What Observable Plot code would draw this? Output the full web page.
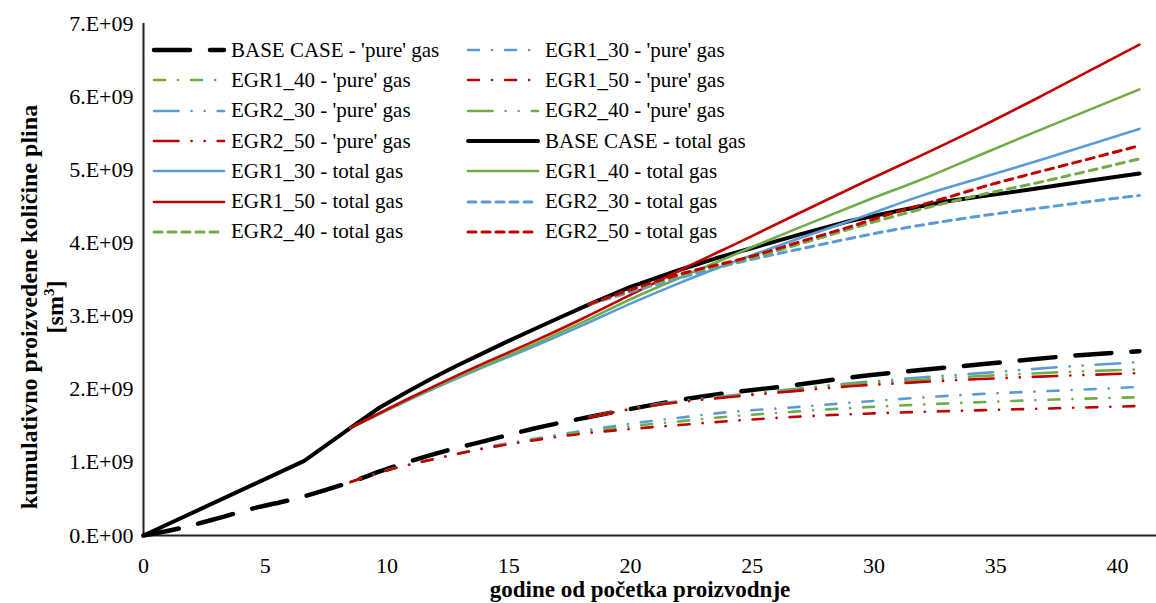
<!DOCTYPE html>
<html>
<head>
<meta charset="utf-8">
<script src="https://cdn.jsdelivr.net/npm/d3@7"></script>
<script src="https://cdn.jsdelivr.net/npm/@observablehq/plot@0.6"></script>
<style>
  body { margin: 0; background: #fff; }
  #wrap { position: relative; width: 1156px; height: 603px; font-family: "Liberation Serif", "Times New Roman", serif; color: #000; }
  #legend { position: absolute; left: 151px; top: 35px; display: grid; grid-template-columns: 314px 320px; }
  .item { display: flex; align-items: center; height: 30.3px; font-size: 21px; white-space: nowrap; }
  .item svg { margin-right: 3px; flex: none; }
  #xtitle { position: absolute; left: 0; width: 1280px; top: 577px; text-align: center; font-weight: bold; font-size: 23px; line-height: 26px; }
  #ytitle { position: absolute; left: -207.5px; top: 280px; width: 500px; height: 54px; transform: rotate(-90deg); transform-origin: 50% 50%; text-align: center; font-weight: bold; font-size: 24px; line-height: 26px; }
  #ytitle sup { font-size: 15px; line-height: 0; }
</style>
</head>
<body>
<div id="wrap">
  <div id="chart"></div>
  <div id="legend"></div>
  <div id="xtitle">godine od početka proizvodnje</div>
  <div id="ytitle">kumulativno proizvedene količine plina<br>[sm<sup>3</sup>]</div>
</div>
<script>
// ---------- data (values in 1E9 sm3) ----------
const xTicks = [0, 5, 10, 15, 20, 25, 30, 35, 40];
const yTicks = [0, 1, 2, 3, 4, 5, 6, 7];

// BASE CASE
const baseTotalX = [0, 6.6, 8.5, 9.7, 10.8, 11.8, 12.8, 13.8, 14.8, 15.9, 17.1, 18.3, 20, 22, 23.5, 25, 27, 29, 31, 33, 34.7, 36.4, 38.6, 40.9];
const baseTotalY = [0, 1.02, 1.47, 1.75, 1.96, 2.14, 2.31, 2.47, 2.63, 2.80, 2.98, 3.16, 3.40, 3.63, 3.79, 3.93, 4.12, 4.30, 4.44, 4.57, 4.65, 4.73, 4.84, 4.95];
const basePureX = [0, 0.5, 1.5, 3, 4.5, 6.2, 8.5, 10, 12, 14, 16, 18.3, 20, 22, 24, 26.6, 29, 31.5, 34.4, 37.5, 40.9];
const basePureY = [0, 0.03, 0.10, 0.23, 0.37, 0.50, 0.73, 0.91, 1.12, 1.29, 1.46, 1.62, 1.73, 1.85, 1.95, 2.05, 2.16, 2.25, 2.34, 2.44, 2.52];

// EGR1 total gas
const egr1TotalX = [8.5, 11, 13.8, 16, 18, 20, 22, 24.9, 27, 29.7, 31.9, 34.4, 37, 40.9];
const egr1_30_total = [1.47, 1.87, 2.28, 2.58, 2.87, 3.17, 3.45, 3.82, 4.07, 4.38, 4.64, 4.89, 5.15, 5.56];
const egr1_40_total = [1.47, 1.88, 2.30, 2.61, 2.91, 3.23, 3.52, 3.93, 4.22, 4.58, 4.86, 5.21, 5.57, 6.10];
const egr1_50_total = [1.47, 1.89, 2.33, 2.65, 2.96, 3.29, 3.62, 4.08, 4.42, 4.85, 5.19, 5.59, 6.03, 6.71];

// EGR2 total gas
const egr2TotalX = [18.3, 20, 22, 24.9, 27, 29, 31, 33, 34.4, 36.4, 38.5, 40.9];
const egr2_30_total = [3.16, 3.33, 3.52, 3.77, 3.92, 4.06, 4.19, 4.30, 4.37, 4.46, 4.55, 4.65];
const egr2_40_total = [3.16, 3.35, 3.55, 3.79, 3.99, 4.19, 4.38, 4.55, 4.66, 4.80, 4.96, 5.15];
const egr2_50_total = [3.16, 3.36, 3.57, 3.81, 4.02, 4.22, 4.43, 4.62, 4.76, 4.94, 5.12, 5.33];

// EGR1 'pure' gas
const egr1PureX = [8.5, 10, 12, 14, 16, 18, 20.5, 22, 23.5, 26.6, 30, 34.1, 37.5, 40.9];
const egr1_30_pure = [0.73, 0.89, 1.05, 1.20, 1.32, 1.43, 1.55, 1.61, 1.67, 1.75, 1.84, 1.93, 1.98, 2.03];
const egr1_40_pure = [0.73, 0.89, 1.05, 1.19, 1.31, 1.41, 1.51, 1.56, 1.61, 1.69, 1.76, 1.82, 1.86, 1.89];
const egr1_50_pure = [0.73, 0.89, 1.05, 1.19, 1.30, 1.39, 1.47, 1.51, 1.55, 1.62, 1.67, 1.71, 1.74, 1.77];

// EGR2 'pure' gas
const egr2PureX = [18.3, 21, 24, 26.6, 29, 31.5, 34.4, 37.5, 40.9];
const egr2_30_pure = [1.62, 1.79, 1.91, 2.00, 2.08, 2.15, 2.22, 2.30, 2.37];
const egr2_40_pure = [1.62, 1.78, 1.90, 1.99, 2.07, 2.12, 2.18, 2.23, 2.27];
const egr2_50_pure = [1.62, 1.78, 1.89, 1.97, 2.04, 2.09, 2.14, 2.18, 2.22];

// ---------- styles ----------
const BLUE = "#5B9BD5", GREEN = "#70AD47", RED = "#C00000", BLACK = "#000000";
const DASH_BASE = "36 20";
const DASH_DOT = "11 13 0.1 13";
const DASH_DOT_DOT = "24.5 13 0.1 13 0.1 13";
const DASH_SHORT = "8 6";

const series = [
  {name: "BASE CASE - 'pure' gas", x: basePureX, y: basePureY, color: BLACK, w: 4.5, dash: DASH_BASE, curve: "monotone-x"},
  {name: "EGR1_30 - 'pure' gas", x: egr1PureX, y: egr1_30_pure, color: BLUE, w: 2.6, dash: DASH_DOT, curve: "monotone-x"},
  {name: "EGR1_40 - 'pure' gas", x: egr1PureX, y: egr1_40_pure, color: GREEN, w: 2.6, dash: DASH_DOT, curve: "monotone-x"},
  {name: "EGR1_50 - 'pure' gas", x: egr1PureX, y: egr1_50_pure, color: RED, w: 2.6, dash: DASH_DOT, curve: "monotone-x"},
  {name: "EGR2_30 - 'pure' gas", x: egr2PureX, y: egr2_30_pure, color: BLUE, w: 2.6, dash: DASH_DOT_DOT, curve: "monotone-x"},
  {name: "EGR2_40 - 'pure' gas", x: egr2PureX, y: egr2_40_pure, color: GREEN, w: 2.6, dash: DASH_DOT_DOT, curve: "monotone-x"},
  {name: "EGR2_50 - 'pure' gas", x: egr2PureX, y: egr2_50_pure, color: RED, w: 2.6, dash: DASH_DOT_DOT, curve: "monotone-x"},
  {name: "BASE CASE - total gas", x: baseTotalX, y: baseTotalY, color: BLACK, w: 4, dash: null, curve: "linear"},
  {name: "EGR1_30 - total gas", x: egr1TotalX, y: egr1_30_total, color: BLUE, w: 2.6, dash: null, curve: "monotone-x"},
  {name: "EGR1_40 - total gas", x: egr1TotalX, y: egr1_40_total, color: GREEN, w: 2.6, dash: null, curve: "monotone-x"},
  {name: "EGR1_50 - total gas", x: egr1TotalX, y: egr1_50_total, color: RED, w: 2.6, dash: null, curve: "monotone-x"},
  {name: "EGR2_30 - total gas", x: egr2TotalX, y: egr2_30_total, color: BLUE, w: 3, dash: DASH_SHORT, curve: "monotone-x"},
  {name: "EGR2_40 - total gas", x: egr2TotalX, y: egr2_40_total, color: GREEN, w: 3, dash: DASH_SHORT, curve: "monotone-x"},
  {name: "EGR2_50 - total gas", x: egr2TotalX, y: egr2_50_total, color: RED, w: 3, dash: DASH_SHORT, curve: "monotone-x"}
];

const fmt = d => d === 0 ? "0.E+00" : `${d / 1e9}.E+09`;

const lineMarks = series.map(s => Plot.line(
  s.x.map((x, i) => ({x, y: s.y[i] * 1e9})),
  {x: "x", y: "y", stroke: s.color, strokeWidth: s.w, strokeDasharray: s.dash || undefined,
   strokeLinecap: "round", strokeLinejoin: "round", curve: s.curve}
));

const chart = Plot.plot({
  width: 1156,
  height: 603,
  marginLeft: 143,
  marginRight: 0,
  marginTop: 23,
  marginBottom: 68,
  x: {domain: [0, 41.6]},
  y: {domain: [0, 7e9]},
  style: {fontFamily: "Liberation Serif", fontSize: "22px", color: "#000", background: "#fff"},
  marks: [
    Plot.axisX({ticks: xTicks, tickSize: 0, tickPadding: 22, fontSize: 22, label: null}),
    Plot.axisY({ticks: yTicks.map(v => v * 1e9), tickSize: 0, tickPadding: 10, fontSize: 22, label: null, tickFormat: fmt}),
    Plot.ruleY([0], {stroke: "#222", strokeWidth: 2}),
    Plot.ruleX([0], {stroke: "#222", strokeWidth: 2}),
    ...lineMarks
  ]
});
document.getElementById("chart").appendChild(chart);

// ---------- legend ----------
const legend = document.getElementById("legend");
series.forEach(s => {
  const item = document.createElement("div");
  item.className = "item";
  const ns = "http://www.w3.org/2000/svg";
  const svg = document.createElementNS(ns, "svg");
  svg.setAttribute("width", 77);
  svg.setAttribute("height", 12);
  const ln = document.createElementNS(ns, "line");
  ln.setAttribute("x1", 3); ln.setAttribute("x2", 73);
  ln.setAttribute("y1", 6); ln.setAttribute("y2", 6);
  ln.setAttribute("stroke", s.color);
  ln.setAttribute("stroke-width", s.w);
  ln.setAttribute("stroke-linecap", "round");
  if (s.dash) ln.setAttribute("stroke-dasharray", s.dash);
  svg.appendChild(ln);
  item.appendChild(svg);
  const t = document.createElement("span");
  t.textContent = s.name;
  item.appendChild(t);
  legend.appendChild(item);
});
</script>
</body>
</html>
